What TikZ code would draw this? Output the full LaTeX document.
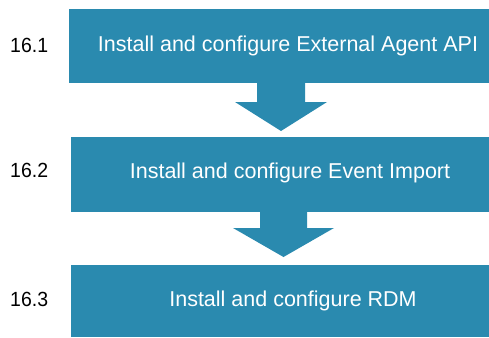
\documentclass[tikz,border=0pt]{standalone}
\usepackage{fontspec}
\setmainfont{Liberation Sans}
\newfontfamily\narrowfont[FakeStretch=0.95]{Liberation Sans}
\definecolor{boxblue}{RGB}{42,138,175}
\begin{document}
\begin{tikzpicture}[x=1pt,y=-1pt,
  stepbox/.style={fill=boxblue,draw=none},
  steptext/.style={text=white,font=\fontsize{21.5}{26}\selectfont,inner sep=0pt,anchor=base},
  numlabel/.style={text=black,font=\narrowfont\fontsize{20.5}{24}\selectfont,anchor=base west,inner sep=0pt},
  downarrow/.style={fill=boxblue,draw=none}]
\useasboundingbox (0,0) rectangle (489,337);
% boxes
\fill[stepbox] (69,9) rectangle (489,83);
\fill[stepbox] (71,137) rectangle (489,212);
\fill[stepbox] (71,265) rectangle (489,337);
% arrows
\fill[downarrow] (257,83) -- (305,83) -- (305,102) -- (327,102) -- (281,131) -- (235,102) -- (257,102) -- cycle;
\fill[downarrow] (260,212) -- (307,212) -- (307,228) -- (334,228) -- (283.5,257) -- (233,228) -- (260,228) -- cycle;
% texts
\node[steptext] (t1) at (288,52) {Install and configure External Agent API};
\node[steptext] (t2) at (290,178) {Install and configure Event Import};
\node[steptext] (t3) at (293,306.5) {Install and configure RDM};
\node[numlabel] (n1) at (10,52.3) {16.1};
\node[numlabel] (n2) at (10,177) {16.2};
\node[numlabel] (n3) at (10,306.5) {16.3};
\end{tikzpicture}
\end{document}
